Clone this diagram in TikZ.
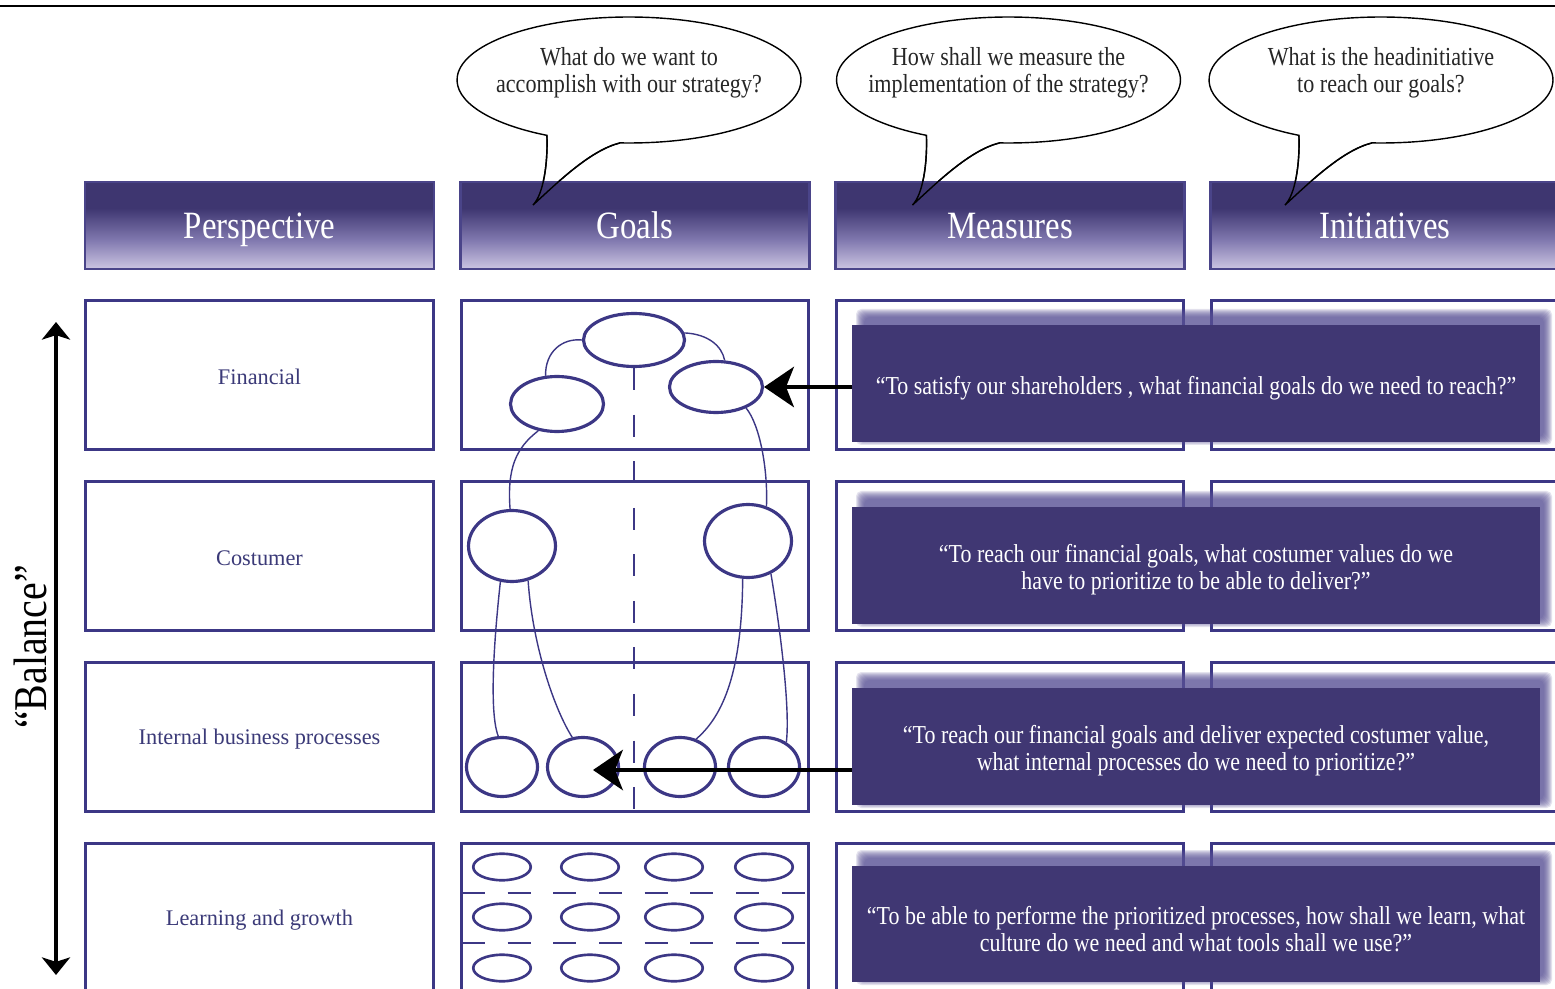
\documentclass[tikz,border=0pt]{standalone}
\usepackage{fontspec}
\setmainfont{Liberation Serif}
\newfontfamily\cond[FakeStretch=0.85]{Liberation Serif}
\usetikzlibrary{shapes.geometric,arrows.meta}
\definecolor{navy}{HTML}{3C3785}
\definecolor{dbox}{HTML}{403773}
\definecolor{hdark}{HTML}{3E3670}
\definecolor{hmid}{HTML}{7F77AE}
\definecolor{hlight}{HTML}{CCC5E2}
\definecolor{hborder}{HTML}{4A4489}
\definecolor{lblc}{HTML}{3B3A78}
\definecolor{glowc}{HTML}{5A5296}
\pgfdeclareverticalshading{hdrshade}{100bp}{color(0bp)=(hlight); color(25bp)=(hlight); color(42bp)=(hmid); color(60bp)=(hdark); color(100bp)=(hdark)}
\begin{document}
\begin{tikzpicture}[x=0.02cm,y=-0.02cm,
  hdr/.style={draw=hborder, line width=1.2pt, shade, shading=hdrshade, minimum width=6.98cm, minimum height=1.74cm, inner sep=0pt},
  htxt/.style={text=white, font=\cond\fontsize{22}{26}\selectfont},
  rowbox/.style={draw=navy, line width=1.7pt, fill=white, minimum width=6.96cm, minimum height=2.98cm, inner sep=0pt},
  lbl/.style={text=lblc, font=\fontsize{12.7}{15}\selectfont},
  darkbox/.style={fill=dbox, minimum width=13.76cm, minimum height=2.34cm, inner sep=0pt},
  dtxt/.style={text=white, align=center, font=\cond\fontsize{14.7}{15.3}\selectfont},
  bubble/.style={draw=black, line width=0.8pt, fill=white},
  bubline/.style={draw=black, line width=0.8pt},
  btxt/.style={align=center, text=black!85, font=\cond\fontsize{14.8}{15.3}\selectfont},
  gell/.style={ellipse, draw=navy, line width=1.8pt, fill=white, inner sep=0pt},
  sell/.style={ellipse, draw=navy, line width=1.5pt, fill=white, inner sep=0pt, minimum width=1.15cm, minimum height=0.53cm},
  link/.style={draw=navy, line width=0.8pt},
  vdash/.style={draw=navy, line width=1.1pt, dash pattern=on 12.5pt off 14pt},
  hdash/.style={draw=navy, line width=1.0pt, dash pattern=on 13pt off 13pt},
  arr/.style={draw=black, line width=2.2pt, -{Stealth[length=17pt,width=23pt,inset=4.5pt]}},
  barr/.style={draw=black, line width=1.9pt, {Stealth[length=10pt,width=16pt,inset=2.5pt]}-{Stealth[length=10pt,width=16pt,inset=2.5pt]}}
]
\useasboundingbox (0,0) rectangle (1555,989);
\clip (0,0) rectangle (1555,989);

% top rule
\coordinate (tl1) at (0,6);
\coordinate (tl2) at (1555,6);
\draw[line width=0.8pt] (tl1) -- (tl2);

% speech bubbles
\draw[bubble] (629,80) ++(267:3.44cm and 1.26cm) arc[start angle=267, end angle=601.5, x radius=3.44cm, y radius=1.26cm]
  .. controls (548,165) and (543,195) .. (533,205) .. controls (555,185) and (590,150) .. (620,143) -- cycle;
\draw[bubble] (1008.5,80) ++(267:3.44cm and 1.26cm) arc[start angle=267, end angle=601.5, x radius=3.44cm, y radius=1.26cm]
  .. controls (927.5,165) and (922.5,195) .. (912.5,205) .. controls (934.5,185) and (969.5,150) .. (999.5,143) -- cycle;
\draw[bubble] (1381,80) ++(267:3.44cm and 1.26cm) arc[start angle=267, end angle=601.5, x radius=3.44cm, y radius=1.26cm]
  .. controls (1300,165) and (1295,195) .. (1285,205) .. controls (1307,185) and (1342,150) .. (1372,143) -- cycle;
\node[btxt] (q1) at (629,73) {What do we want to\\accomplish with our strategy?};
\node[btxt] (q2) at (1008.5,73) {How shall we measure the\\implementation of the strategy?};
\node[btxt] (q3) at (1381,73) {What is the headinitiative\\to reach our goals?};

% header boxes
\node[hdr] (h1) at (259.5,225.5) {};
\node[hdr] (h2) at (635,225.5) {};
\node[hdr] (h3) at (1010,225.5) {};
\node[hdr] (h4) at (1385,225.5) {};
\node[htxt, anchor=base] (ht1) at (259.5,239) {Perspective};
\node[htxt, anchor=base] (ht2) at (635,239) {Goals};
\node[htxt, anchor=base] (ht3) at (1010,239) {Measures};
\node[htxt, anchor=base] (ht4) at (1385,239) {Initiatives};

% tails over headers
\draw[bubline] (546.9,135.4) .. controls (548,165) and (543,195) .. (533,205) .. controls (555,185) and (590,150) .. (620,143);
\draw[bubline] (926.4,135.4) .. controls (927.5,165) and (922.5,195) .. (912.5,205) .. controls (934.5,185) and (969.5,150) .. (999.5,143);
\draw[bubline] (1298.9,135.4) .. controls (1300,165) and (1295,195) .. (1285,205) .. controls (1307,185) and (1342,150) .. (1372,143);

% row boxes
\foreach \yy [count=\r] in {375,556,737,918} {
  \node[rowbox] (p\r) at (259.5,\yy) {};
  \node[rowbox] (gb\r) at (635,\yy) {};
  \node[rowbox] (m\r) at (1010,\yy) {};
  \node[rowbox] (n\r) at (1385,\yy) {};
}
\node[lbl] (l1) at (259.5,377) {Financial};
\node[lbl] (l2) at (259.5,558) {Costumer};
\node[lbl] (l3) at (259.5,739) {Internal business processes};
\node[lbl] (l4) at (259.5,920) {Learning and growth};

% glows
\foreach \yt/\yb in {325/442, 507/624, 688/805, 866/982} {
  \foreach \k in {0,...,8} {
    \fill[glowc, opacity=0.16, rounded corners=3pt] (864-\k, \yt-8-\k) rectangle (1544+\k, \yb-5+\k);
  }
}
% dark boxes
\node[darkbox] (d1) at (1196,383.5) {};
\node[darkbox] (d2) at (1196,565.5) {};
\node[darkbox] (d3) at (1196,746.5) {};
\node[darkbox] (d4) at (1196,924) {};
\node[dtxt] (t1) at (1196,388) {\textquotedblleft To satisfy our shareholders , what financial goals do we need to reach?\textquotedblright};
\node[dtxt] (t2) at (1196,570) {\textquotedblleft To reach our financial goals, what costumer values do we\\have to prioritize to be able to deliver?\textquotedblright};
\node[dtxt] (t3) at (1196,751) {\textquotedblleft To reach our financial goals and deliver expected costumer value,\\what internal processes do we need to prioritize?\textquotedblright};
\node[dtxt] (t4) at (1196,929) {\textquotedblleft To be able to performe the prioritized processes, how shall we learn, what\\culture do we need and what tools shall we use?\textquotedblright};

% goals ellipses
\node[gell, minimum width=2.02cm, minimum height=1.06cm] (g1) at (634,340) {};
\node[gell, minimum width=1.86cm, minimum height=1.10cm] (g2) at (557,404) {};
\node[gell, minimum width=1.86cm, minimum height=1.02cm] (g3) at (716,387) {};
\node[gell, minimum width=1.74cm, minimum height=1.42cm] (g4) at (512,546) {};
\node[gell, minimum width=1.74cm, minimum height=1.46cm] (g5) at (748,541) {};
\node[gell, minimum width=1.42cm, minimum height=1.18cm] (i1) at (502,767) {};
\node[gell, minimum width=1.42cm, minimum height=1.18cm] (i2) at (583,767) {};
\node[gell, minimum width=1.42cm, minimum height=1.18cm] (i3) at (680,767) {};
\node[gell, minimum width=1.42cm, minimum height=1.18cm] (i4) at (764,767) {};
\foreach \yy [count=\r] in {867,917,968} {
  \foreach \xx [count=\c] in {502,590,674,764} {
    \node[sell] (s\r\c) at (\xx,\yy) {};
  }
}

% dashed lines
\coordinate (vdend) at (634,813);
\draw[vdash] (g1.south) -- (vdend);
\coordinate (hd1a) at (462,893); \coordinate (hd1b) at (810,893);
\coordinate (hd2a) at (462,943); \coordinate (hd2b) at (810,943);
\draw[hdash] (hd1a) -- (hd1b);
\draw[hdash] (hd2a) -- (hd2b);

% links
\draw[link] (g1.west) .. controls (562,338) and (545,352) .. (g2.112);
\draw[link] (g1.8) .. controls (708,334) and (722,346) .. (g3.72);
\draw[link] (g2.235) .. controls (516,448) and (507,468) .. (g4.93);
\draw[link] (g3.325) .. controls (760,425) and (768,470) .. (g5.62);
\draw[link] (g4.252) .. controls (494,640) and (489,712) .. (i1.97);
\draw[link] (g4.295) .. controls (532,640) and (552,705) .. (i2.110);
\draw[link] (g5.262) .. controls (742,660) and (728,712) .. (i3.60);
\draw[link] (g5.305) .. controls (782,640) and (790,712) .. (i4.48);

% arrows
\draw[arr] (d1.west |- g3.east) -- (g3.east);
\coordinate (a2end) at (593,770);
\draw[arr] (d3.west |- a2end) -- (a2end);

% balance
\coordinate (bt) at (56,322);
\coordinate (bb) at (56,975);
\draw[barr] (bb) -- (bt);
\node[rotate=90, font=\cond\fontsize{26.7}{30}\selectfont] (bal) at (30,647) {\textquotedblleft Balance\textquotedblright};
\end{tikzpicture}
\end{document}
